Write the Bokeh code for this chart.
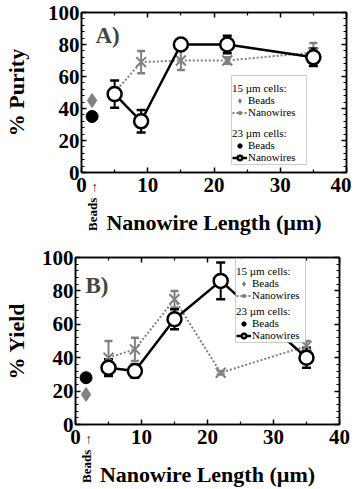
import math
from bokeh.plotting import figure
from bokeh.layouts import column, row
from bokeh.models import (ColumnDataSource, Whisker, TeeHead, Legend, LegendItem,
                          LinearAxis, Label, Range1d, FixedTicker, BoxAnnotation,
                          CustomJSTickFormatter)
from bokeh.embed import file_html
from bokeh.resources import INLINE

# ---------------- data ----------------
lengths = [5, 9, 15, 22, 35]          # nanowire length (um)
bead_x = [1.6]                        # "Beads" position on the x axis
x_ticks = [0, 10, 20, 30, 40]
y_ticks = [0, 20, 40, 60, 80, 100]

# Panel A: % Purity
a_bead15 = [45]
a_bead23 = [35]
a_nw15 = [50, 69, 70, 70, 75]
a_nw15_err = [3, 7, 6, 2, 6]
a_nw23 = [49, 32, 80, 80, 72]
a_nw23_err = [8.5, 7, 2, 5.5, 5.5]

# Panel B: % Yield
b_bead15 = [18]
b_bead23 = [28]
b_nw15 = [40, 45, 75, 31, 47]
b_nw15_err = [10, 7, 5, 1, 3]
b_nw23 = [34, 32, 63, 86, 40]
b_nw23_err = [5, 4, 6, 11, 6]

SERIF = "Liberation Serif"
GRAY = "#808080"


def style_legend(lg):
    lg.title_text_font = SERIF
    lg.title_text_font_size = "11px"
    lg.title_text_font_style = "normal"
    lg.title_text_color = "black"
    lg.title_standoff = 0
    lg.label_text_font = SERIF
    lg.label_text_font_size = "11px"
    lg.label_text_color = "black"
    lg.label_height = 11
    lg.glyph_height = 11
    lg.glyph_width = 15
    lg.spacing = 0
    lg.padding = 2
    lg.margin = 0
    lg.label_standoff = 1
    lg.border_line_color = None
    lg.background_fill_alpha = 0


def panel(tag, ylabel, bead15, bead23, nw15, nw15_err, nw23, nw23_err,
          frame, borders, ylab_standoff, box, leg_y, tag_xy):
    fw, fh = frame
    left, right, top, bottom = borders
    p = figure(frame_width=fw, frame_height=fh, x_range=Range1d(0, 40), y_range=Range1d(0, 100),
               output_backend="svg", toolbar_location=None,
               min_border_left=left, min_border_right=right,
               min_border_top=top, min_border_bottom=bottom)
    p.grid.visible = False
    p.outline_line_color = "black"
    p.outline_line_width = 1.5
    p.background_fill_color = "white"
    p.border_fill_color = "white"

    blank = CustomJSTickFormatter(code="return ''")
    p.add_layout(LinearAxis(formatter=blank, major_label_standoff=0,
                            major_label_text_font_size="1px"), "right")
    p.add_layout(LinearAxis(formatter=blank, major_label_standoff=0,
                            major_label_text_font_size="1px"), "above")

    xt = FixedTicker(ticks=x_ticks, minor_ticks=[t + 5 for t in x_ticks[:-1]])
    yt = FixedTicker(ticks=y_ticks, minor_ticks=[v for v in range(0, 101, 4)])
    main_x = p.below[0]
    main_y = p.left[0]
    for ax in p.below + p.above:
        ax.ticker = xt
    for ax in p.left + p.right:
        ax.ticker = yt
    for ax in p.below + p.above + p.left + p.right:
        ax.axis_line_width = 1.5
        ax.major_tick_in = 5
        ax.major_tick_out = 0
        ax.minor_tick_in = 3
        ax.minor_tick_out = 0
        ax.major_tick_line_width = 1.5
        ax.minor_tick_line_width = 1.2
    for ax in (main_x, main_y):
        ax.major_label_text_font = SERIF
        ax.major_label_text_font_style = "bold"
        ax.major_label_text_font_size = "21px"
        ax.major_label_text_color = "black"
        ax.major_label_standoff = 2
        ax.axis_label_text_font = SERIF
        ax.axis_label_text_font_style = "bold"
        ax.axis_label_text_font_size = "22px"
        ax.axis_label_text_color = "black"
    main_x.axis_label = "Nanowire Length (µm)"
    main_y.axis_label = ylabel
    main_x.major_label_standoff = 5
    main_x.axis_label_standoff = 15
    main_y.axis_label_standoff = ylab_standoff

    # "Beads ->" marker below the x axis: an extra axis pulled up under the frame
    beads_ax = LinearAxis(ticker=FixedTicker(ticks=bead_x, minor_ticks=[]),
                          major_label_overrides={bead_x[0]: "Beads →"},
                          major_label_orientation=math.pi / 2,
                          major_label_standoff=-62,
                          major_label_text_font=SERIF,
                          major_label_text_font_style="bold",
                          major_label_text_font_size="13px",
                          major_label_text_color="black",
                          axis_line_color=None, major_tick_line_color=None,
                          minor_tick_line_color=None)
    p.add_layout(beads_ax, "below")

    lo15 = [v - e for v, e in zip(nw15, nw15_err)]
    hi15 = [v + e for v, e in zip(nw15, nw15_err)]
    lo23 = [v - e for v, e in zip(nw23, nw23_err)]
    hi23 = [v + e for v, e in zip(nw23, nw23_err)]
    s15 = ColumnDataSource(dict(x=lengths, y=nw15, lo=lo15, hi=hi15))
    s23 = ColumnDataSource(dict(x=lengths, y=nw23, lo=lo23, hi=hi23))

    p.add_layout(Whisker(base="x", upper="hi", lower="lo", source=s15,
                         line_color=GRAY, line_width=2, level="underlay",
                         upper_head=TeeHead(size=8, line_color=GRAY, line_width=2.5),
                         lower_head=TeeHead(size=8, line_color=GRAY, line_width=2.5)))
    p.add_layout(Whisker(base="x", upper="hi", lower="lo", source=s23,
                         line_color="black", line_width=2, level="underlay",
                         upper_head=TeeHead(size=9, line_color="black", line_width=2.5),
                         lower_head=TeeHead(size=9, line_color="black", line_width=2.5)))

    l15 = p.line("x", "y", source=s15, line_color=GRAY, line_width=2, line_dash="2 2")
    m15 = p.scatter("x", "y", source=s15, marker="x", size=14, line_color=GRAY, line_width=2)
    d15 = p.scatter(bead_x, bead15, marker="diamond", size=14, fill_color=GRAY, line_color=GRAY)
    c23 = p.scatter(bead_x, bead23, marker="circle", size=12, fill_color="black", line_color="black")
    l23 = p.line("x", "y", source=s23, line_color="black", line_width=2.5)
    m23 = p.scatter("x", "y", source=s23, marker="circle", size=14, fill_color="white",
                    line_color="black", line_width=2.5)

    bl, br, bb, bt = box
    p.add_layout(BoxAnnotation(left=bl, right=br, bottom=bb, top=bt,
                               left_units="screen", right_units="screen",
                               bottom_units="screen", top_units="screen",
                               fill_color="white", fill_alpha=1,
                               line_color="#555555", line_width=1))
    lg1 = Legend(title="15 µm cells:", items=[
        LegendItem(label="Beads", renderers=[d15]),
        LegendItem(label="Nanowires", renderers=[l15, m15]),
    ], location=(bl + 1, leg_y[0]))
    lg2 = Legend(title="23 µm cells:", items=[
        LegendItem(label="Beads", renderers=[c23]),
        LegendItem(label="Nanowires", renderers=[l23, m23]),
    ], location=(bl + 1, leg_y[1]))
    for lg in (lg1, lg2):
        style_legend(lg)
        p.add_layout(lg, "center")

    p.add_layout(Label(x=tag_xy[0], y=tag_xy[1], x_units="screen", y_units="screen",
                       text=tag, text_font=SERIF, text_font_style="bold",
                       text_font_size="23px", text_baseline="alphabetic"))
    return p


pA = panel("A)", "% Purity", a_bead15, a_bead23, a_nw15, a_nw15_err, a_nw23, a_nw23_err,
           (265, 160), (75, 5, 12, 65), 16, (150, 225, 8, 97), (54, 9), (14, 137))
pB = panel("B)", "% Yield", b_bead15, b_bead23, b_nw15, b_nw15_err, b_nw23, b_nw23_err,
           (264, 167), (69, 12, 20, 0), 10, (160, 230, 82, 166), (123, 83), (10, 139))

layout = column(row(pA), row(pB), spacing=0)
open("out.html", "w").write(file_html(layout, INLINE))
